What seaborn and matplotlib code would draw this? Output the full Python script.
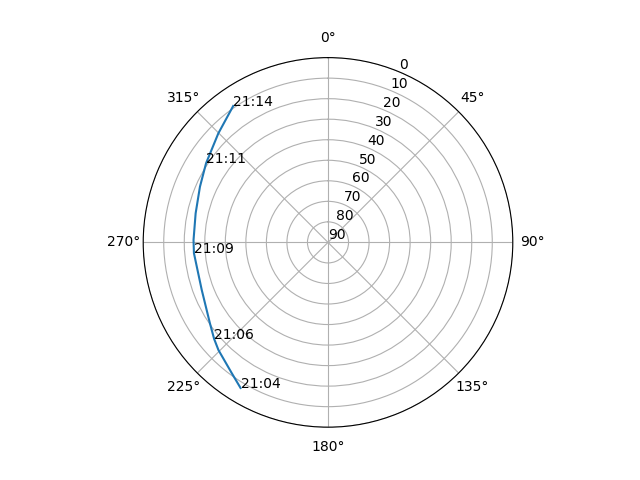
import numpy as np
import pandas as pd
import seaborn as sns
import matplotlib
matplotlib.use("Agg")
from matplotlib import pyplot as plt

# pass track: azimuth (deg) and elevation (deg)
azimuth = [211.0, 216.3, 225.5, 229.7, 235.6, 249.4, 265.4, 271.0, 282.4, 293.5, 303.0, 314.8, 325.2]
elevation = [7.3, 10.9, 15.2, 17.3, 20.3, 24.3, 24.5, 24.5, 24.0, 22.0, 19.2, 14.7, 9.1]
times = ['21:04', '', '', '21:06', '', '', '21:09', '', '', '', '21:11', '', '21:14']

track = pd.DataFrame({'az': np.radians(azimuth), 'el': elevation, 'time': times})

fig = plt.figure(figsize=(6.4, 4.8), dpi=100)
ax = fig.add_subplot(111, projection='polar')
ax.set_theta_zero_location('N')
ax.set_theta_direction(-1)

sns.lineplot(data=track, x='az', y='el', ax=ax, sort=False)

for i, row in track.iterrows():
    if row['time']:
        ax.text(row['az'], row['el'], row['time'])

ax.set_ylim(90, 0)
ax.set_yticks(range(0, 91, 10))
ax.set_xlabel('')
ax.set_ylabel('')

plt.savefig('out.png')
